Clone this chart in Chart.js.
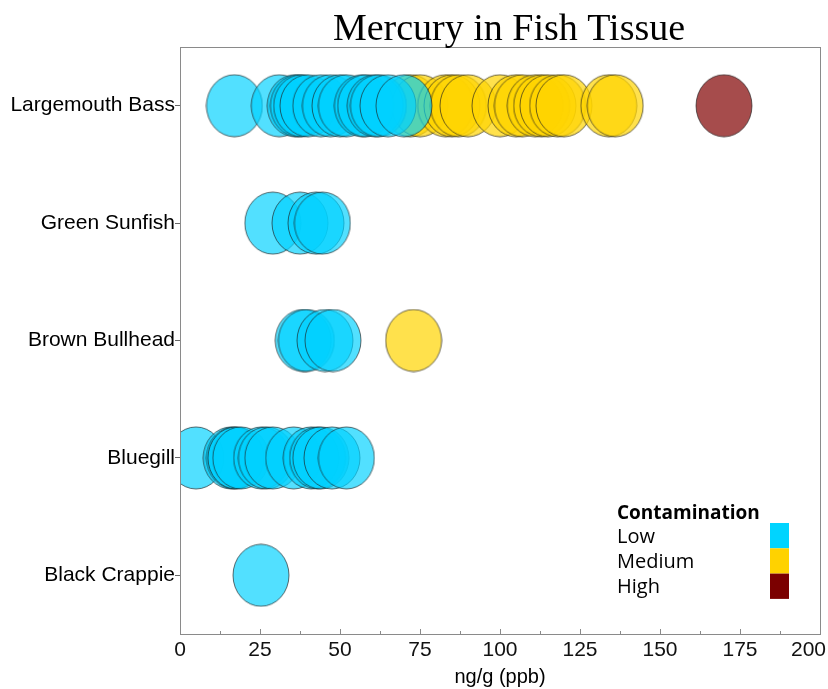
<!DOCTYPE html>
<html>
<head>
<meta charset="utf-8">
<title>Mercury in Fish Tissue</title>
<script src="https://cdn.jsdelivr.net/npm/chart.js@4.4.1/dist/chart.umd.min.js"></script>
<style>
  html, body { margin: 0; padding: 0; background: #fff; }
  #wrap { width: 828px; height: 689px; position: relative; }
</style>
</head>
<body>
<div id="wrap"><canvas id="fishChart"></canvas></div>
<script>
// species on the y axis, top to bottom
const fishNames = ["Largemouth Bass", "Green Sunfish", "Brown Bullhead", "Bluegill", "Black Crappie"];

// mercury readings (ng/g), one array per species and contamination level
const bassLow = [17, 31, 36, 37, 38, 40, 44, 47, 50, 52, 57, 58, 61, 62, 65, 70];
const bassMedium = [72, 75, 83, 85, 87, 90, 100, 105, 107, 111, 113, 115, 118, 120, 134, 136];
const bassHigh = [170];
const sunfishLow = [29, 37.5, 42.5, 44.5];
const bullheadLow = [38.5, 39.5, 45.3, 47.8];
const bullheadMedium = [73];
const bluegillLow = [5, 16, 17, 17.5, 19, 25.5, 27, 29, 35.5, 41, 43, 44, 47.5, 52];
const crappieLow = [25.3];

const levelNames = ["Low", "Medium", "High"];
const legendColors = ["#00d4ff", "#ffd200", "#7b0000"];
const bubbleFills = ["rgba(0,210,255,0.68)", "rgba(255,212,0,0.7)", "rgba(128,0,0,0.7)"];
const xTickLabels = ["0", "25", "50", "75", "100", "125", "150", "175", "200"];

const chartTitle = "Mercury in Fish Tissue";
const xTitle = "ng/g (ppb)";
const legendTitle = "Contamination";

function toPoints(values, name) {
  return values.map((v) => ({ x: v, y: name }));
}

// the bubbles are slightly taller than wide, so draw them as little ellipse images
function makeBubble(fill) {
  const c = document.createElement("canvas");
  c.width = 58;
  c.height = 64;
  const g = c.getContext("2d");
  g.beginPath();
  g.ellipse(29, 32, 28, 31, 0, 0, Math.PI * 2);
  g.fillStyle = fill;
  g.fill();
  g.lineWidth = 1;
  g.strokeStyle = "rgba(30,30,30,0.65)";
  g.stroke();
  return c;
}

const lowPoints = [].concat(
  toPoints(bassLow, fishNames[0]),
  toPoints(sunfishLow, fishNames[1]),
  toPoints(bullheadLow, fishNames[2]),
  toPoints(bluegillLow, fishNames[3]),
  toPoints(crappieLow, fishNames[4])
);
const mediumPoints = [].concat(
  toPoints(bassMedium, fishNames[0]),
  toPoints(bullheadMedium, fishNames[2])
);
const highPoints = toPoints(bassHigh, fishNames[0]);

const datasets = [lowPoints, mediumPoints, highPoints].map((pts, i) => {
  return {
    label: levelNames[i],
    data: pts,
    pointStyle: makeBubble(bubbleFills[i]),
    pointRadius: 29,
    pointHoverRadius: 29,
    clip: 0,
  };
});

// frame, inner x ticks, x labels, title and legend
const extras = {
  id: "extras",
  afterDraw(chart) {
    const ctx = chart.ctx;
    const area = chart.chartArea;
    const xs = chart.scales.x;
    ctx.save();

    ctx.strokeStyle = "#8a8a8a";
    ctx.lineWidth = 1;
    ctx.strokeRect(Math.round(area.left) + 0.5, Math.round(area.top) + 0.5,
      Math.round(area.right - area.left), Math.round(area.bottom - area.top));

    // tick marks point into the plot, minor ones halfway between labels
    ctx.beginPath();
    for (let i = 0; i < xTickLabels.length; i++) {
      const v = Number(xTickLabels[i]);
      const px = Math.round(xs.getPixelForValue(v)) + 0.5;
      ctx.moveTo(px, area.bottom);
      ctx.lineTo(px, area.bottom - 5);
      if (i < xTickLabels.length - 1) {
        const mid = (v + Number(xTickLabels[i + 1])) / 2;
        const pm = Math.round(xs.getPixelForValue(mid)) + 0.5;
        ctx.moveTo(pm, area.bottom);
        ctx.lineTo(pm, area.bottom - 3);
      }
    }
    ctx.stroke();

    ctx.fillStyle = "#111";
    ctx.font = "21px 'Liberation Sans', Arial, sans-serif";
    ctx.textAlign = "center";
    ctx.textBaseline = "middle";
    xTickLabels.forEach((t) => {
      let px = xs.getPixelForValue(Number(t));
      const w = ctx.measureText(t).width;
      if (px + w / 2 > chart.width - 2) px = chart.width - 2 - w / 2;
      ctx.fillText(t, px, area.bottom + 16);
    });

    ctx.fillStyle = "#000";
    ctx.font = "38px 'Liberation Serif', 'Times New Roman', serif";
    ctx.textBaseline = "alphabetic";
    ctx.fillText(chartTitle, 509, 40);

    // legend in the lower right corner
    ctx.textAlign = "left";
    ctx.font = "bold 19px 'Open Sans', sans-serif";
    ctx.fillText(legendTitle, 617, 519);
    ctx.font = "20px 'Open Sans', sans-serif";
    levelNames.forEach((name, i) => {
      ctx.fillStyle = "#000";
      ctx.fillText(name, 617, 543 + i * 25);
      ctx.fillStyle = legendColors[i];
      ctx.fillRect(770, 523 + i * 25.3, 19, 25.3);
    });

    ctx.restore();
  },
};

const chart = new Chart(document.getElementById("fishChart"), {
  type: "scatter",
  data: { datasets: datasets },
  options: {
    responsive: true,
    maintainAspectRatio: false,
    animation: false,
    layout: { autoPadding: false, padding: { top: 47, right: 8, bottom: 0, left: 0 } },
    plugins: {
      legend: { display: false },
      tooltip: { enabled: false },
    },
    scales: {
      x: {
        type: "linear",
        min: 0,
        max: 200,
        grid: { display: false },
        border: { display: false },
        ticks: { display: false, stepSize: 25 },
        title: {
          display: true,
          text: xTitle,
          color: "#000",
          font: { family: "'Liberation Sans', Arial, sans-serif", size: 20 },
          padding: { top: 0, bottom: 0 },
        },
        afterFit: function (scale) {
          scale.height = 55;
          scale.paddingLeft = 0;
          scale.paddingRight = 0;
        },
      },
      y: {
        type: "category",
        labels: fishNames,
        offset: true,
        grid: {
          display: true,
          drawOnChartArea: false,
          offset: false,
          tickLength: 5,
          color: "#666",
        },
        border: { display: false },
        ticks: {
          color: "#000",
          padding: 0,
          font: { family: "'Liberation Sans', Arial, sans-serif", size: 21 },
        },
        afterFit: function (scale) {
          scale.width = 180;
        },
      },
    },
  },
  plugins: [extras],
});
</script>
</body>
</html>
